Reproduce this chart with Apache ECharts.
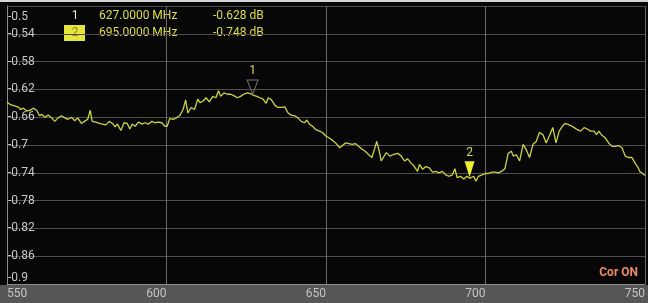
<!DOCTYPE html>
<html>
<head>
<meta charset="utf-8">
<script src="https://cdn.jsdelivr.net/npm/echarts@6/dist/echarts.min.js"></script>
<style>
  html, body { margin: 0; padding: 0; background: #070707; }
  #chart { width: 648px; height: 303px; }
</style>
</head>
<body>
<div id="chart"></div>
<script>
// trace, MHz / dB
const freqs = [550, 551.1, 552.6, 553.7, 554.2, 555.1, 556.3, 557.3, 558.2, 559.3,
  560.2, 560.9, 561.9, 562.9, 564.0, 565.0, 566.0, 567.1, 568.1, 569.1,
  570.2, 571.2, 572.2, 573.3, 574.3, 575.3, 576.1, 576.7, 577.9, 578.9,
  580.0, 581.0, 582.0, 583.1, 583.9, 584.6, 585.7, 586.7, 587.7, 588.5,
  589.2, 590.2, 591.2, 592.3, 593.3, 594.3, 595.4, 596.4, 597.4, 598.5,
  599.5, 600.2, 601.0, 602.1, 603.1, 604.1, 605.2, 606.0, 606.7, 607.7,
  608.8, 609.8, 610.5, 611.4, 612.4, 613.4, 614.5, 615.5, 616.3, 617.0,
  618.0, 619.1, 620.1, 621.1, 622.2, 623.2, 624.2, 625.3, 626.3, 627.0,
  628.3, 629.3, 630.3, 631.2, 631.9, 632.9, 634.0, 635.0, 636.0, 637.1,
  638.1, 639.1, 640.2, 641.2, 642.2, 643.3, 644.0, 644.8, 645.8, 646.8,
  647.9, 648.9, 649.9, 651.0, 652.0, 653.0, 654.3, 655.1, 656.1, 657.2,
  658.2, 659.2, 660.3, 661.3, 662.3, 663.4, 664.4, 665.2, 665.9, 666.7,
  667.3, 667.9, 668.9, 670.0, 671.0, 672.5, 673.6, 674.6, 675.6, 676.7,
  677.7, 678.7, 679.3, 680.3, 681.3, 682.4, 683.4, 684.4, 685.4, 686.5,
  687.5, 688.5, 689.6, 690.4, 691.1, 692.2, 693.2, 694.2, 695.0, 696.3,
  697.0, 697.8, 698.9, 699.9, 700.9, 702.0, 703.0, 704.0, 705.0, 706.1,
  707.1, 708.1, 708.7, 709.7, 710.7, 711.8, 712.8, 713.8, 714.9, 715.9,
  716.9, 718.0, 719.0, 720.0, 721.1, 722.1, 723.1, 724.1, 724.9, 725.7,
  726.7, 727.8, 728.8, 729.8, 730.9, 731.9, 732.9, 734.0, 734.8, 735.5,
  736.5, 737.6, 738.6, 739.7, 740.7, 741.7, 742.8, 743.8, 744.8, 745.9,
  746.9, 747.9, 748.4, 749.2, 750]

const traceDb = [-0.638, -0.642, -0.644, -0.646, -0.649, -0.647, -0.651, -0.650, -0.647, -0.650,
  -0.658, -0.656, -0.660, -0.657, -0.661, -0.666, -0.661, -0.658, -0.661, -0.663,
  -0.660, -0.665, -0.661, -0.669, -0.666, -0.663, -0.650, -0.666, -0.667, -0.669,
  -0.670, -0.671, -0.666, -0.669, -0.674, -0.670, -0.679, -0.668, -0.669, -0.677,
  -0.670, -0.673, -0.667, -0.670, -0.668, -0.670, -0.666, -0.668, -0.667, -0.668,
  -0.673, -0.673, -0.662, -0.663, -0.661, -0.658, -0.649, -0.635, -0.654, -0.646,
  -0.649, -0.634, -0.639, -0.637, -0.632, -0.638, -0.630, -0.632, -0.622, -0.630,
  -0.625, -0.627, -0.627, -0.629, -0.632, -0.630, -0.627, -0.625, -0.626, -0.628,
  -0.630, -0.632, -0.634, -0.640, -0.632, -0.635, -0.643, -0.646, -0.646, -0.645,
  -0.654, -0.657, -0.658, -0.661, -0.666, -0.668, -0.664, -0.670, -0.673, -0.678,
  -0.680, -0.682, -0.687, -0.690, -0.693, -0.697, -0.704, -0.701, -0.697, -0.698,
  -0.699, -0.698, -0.702, -0.706, -0.709, -0.714, -0.718, -0.706, -0.695, -0.709,
  -0.723, -0.721, -0.711, -0.716, -0.714, -0.712, -0.716, -0.723, -0.720, -0.726,
  -0.731, -0.738, -0.728, -0.735, -0.731, -0.733, -0.739, -0.738, -0.740, -0.738,
  -0.743, -0.745, -0.743, -0.734, -0.747, -0.745, -0.749, -0.745, -0.748, -0.745,
  -0.752, -0.745, -0.743, -0.741, -0.741, -0.739, -0.739, -0.740, -0.738, -0.734,
  -0.712, -0.709, -0.716, -0.714, -0.723, -0.699, -0.707, -0.718, -0.699, -0.695,
  -0.682, -0.685, -0.697, -0.687, -0.675, -0.697, -0.680, -0.673, -0.669, -0.670,
  -0.672, -0.675, -0.678, -0.680, -0.675, -0.677, -0.680, -0.680, -0.685, -0.680,
  -0.686, -0.690, -0.697, -0.702, -0.702, -0.701, -0.704, -0.716, -0.718, -0.718,
  -0.726, -0.733, -0.738, -0.741, -0.744]

const markerNames = ['1', '2']
const markerFreqs = [627, 695]
const markerDb = [-0.628, -0.748]

const yMin = -0.9, yMax = -0.5, yStep = 0.04
const xMin = 550, xMax = 750, xStep = 50

const yellow = '#dede44'
const traceColor = '#cbd33c'

const chart = echarts.init(document.getElementById('chart'))

const header = []
markerNames.forEach((name, i) => {
  const y = 16 + i * 17
  if (i === 1) {
    header.push({ type: 'rect', shape: { x: 64, y: y - 8, width: 21, height: 16 }, style: { fill: '#e4e43a' } })
  }
  header.push({ type: 'text', x: 75, y, style: { text: name, fill: i === 1 ? '#8a8a30' : '#e8e8c8', font: '12px Roboto', align: 'center', verticalAlign: 'middle' } })
  header.push({ type: 'text', x: 99, y, style: { text: markerFreqs[i].toFixed(4) + ' MHz', fill: yellow, font: '12px Roboto', verticalAlign: 'middle' } })
  header.push({ type: 'text', x: 213, y, style: { text: markerDb[i].toFixed(3) + ' dB', fill: yellow, font: '12px Roboto', verticalAlign: 'middle' } })
})

const option = {
  backgroundColor: '#070707',
  animation: false,
  textStyle: { fontFamily: 'Roboto' },
  grid: { left: 7, right: -5, top: 6, bottom: 19 },
  xAxis: {
    type: 'value',
    min: xMin,
    max: xMax,
    interval: xStep,
    axisLine: { show: true, lineStyle: { color: '#8c8c8c', width: 1 } },
    axisTick: { show: false },
    splitLine: { show: true, showMinLine: false, lineStyle: { color: '#6a6a6a', width: 1 } },
    axisLabel: {
      color: '#c4c4c4',
      fontSize: 12,
      margin: 4,
      align: 'right',
      alignMinLabel: 'left',
      alignMaxLabel: 'right',
      showMaxLabel: true,
    },
  },
  yAxis: {
    type: 'value',
    min: yMin,
    max: yMax,
    interval: yStep,
    axisLine: { show: true, lineStyle: { color: '#8c8c8c', width: 1 } },
    axisTick: { show: false },
    splitLine: { show: true, lineStyle: { color: '#4e4e4e', width: 1 } },
    axisLabel: {
      inside: true,
      margin: 1,
      color: '#c8c8c8',
      fontSize: 12,
      verticalAlignMinLabel: 'bottom',
      verticalAlignMaxLabel: 'top',
      formatter: (v) => {
        const s = String(+v.toFixed(2))
        return Math.abs(v - yMax) < 1e-6 ? '{top|' + s + '}' : s
      },
      rich: {
        top: { padding: [5, 0, 0, 0], color: '#c8c8c8', fontSize: 12 },
      },
    },
  },
  graphic: [
    { type: 'rect', z: -10, shape: { x: 0, y: 285, width: 648, height: 18 }, style: { fill: '#565656' } },
    { type: 'rect', shape: { x: 0, y: 0, width: 648, height: 2 }, style: { fill: '#d4d4d4' } },
    ...header,
    { type: 'text', x: 638, y: 273, style: { text: 'Cor ON', fill: '#ee8a5c', font: 'bold 12px Roboto', align: 'right', verticalAlign: 'middle' } },
  ],
  series: [
    {
      type: 'line',
      data: freqs.map((f, i) => [f, traceDb[i]]),
      showSymbol: false,
      lineStyle: { color: traceColor, width: 1.3 },
      markPoint: {
        silent: true,
        data: markerNames.map((name, i) => ({
          coord: [markerFreqs[i], markerDb[i]],
          symbol: 'triangle',
          symbolRotate: 180,
          symbolSize: i === 1 ? [10, 16] : [11, 14],
          symbolOffset: [0, i === 1 ? -9 : -8],
          itemStyle: i === 1
            ? { color: '#eeee30' }
            : { color: 'rgba(0,0,0,0)', borderColor: '#7a7a6a', borderWidth: 1 },
          label: {
            show: true,
            formatter: name,
            position: 'top',
            distance: 2,
            color: '#d8dc50',
            fontSize: 12,
          },
        })),
      },
    },
  ],
}

chart.setOption(option)
</script>
</body>
</html>
